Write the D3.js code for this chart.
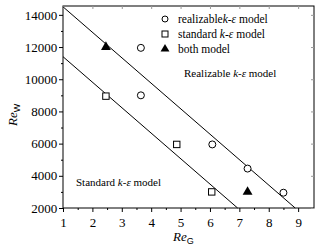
<!DOCTYPE html>
<html>
<head>
<meta charset="utf-8">
<script src="https://cdn.jsdelivr.net/npm/d3@7"></script>
<style>
  body { margin: 0; background: #fff; }
  svg { display: block; font-family: "Liberation Serif", "Times New Roman", serif; }
</style>
</head>
<body>
<div id="chart"></div>
<script>
// data
const realizable = [[3.65, 11950], [3.65, 9000], [6.08, 5950], [7.28, 4450], [8.5, 2950]];
const standard = [[2.46, 8950], [4.87, 5950], [6.06, 3000]];
const both = [[2.46, 12000], [7.28, 3000]];
const upperLine = [[1, 14500], [8.9, 2000]];
const lowerLine = [[1, 11400], [6.94, 2000]];
const xTicks = [1, 2, 3, 4, 5, 6, 7, 8, 9];
const yTicks = [2000, 4000, 6000, 8000, 10000, 12000, 14000];

const width = 320, height = 249;
const margin = { top: 6, right: 6, bottom: 41, left: 63 };
const innerWidth = width - margin.left - margin.right;
const innerHeight = height - margin.top - margin.bottom;

const svg = d3.select('#chart').append('svg')
  .attr('width', width).attr('height', height);
const g = svg.append('g').attr('transform', `translate(${margin.left},${margin.top})`);

const x = d3.scaleLinear().domain([1, 9.54]).range([0, innerWidth]);
const y = d3.scaleLinear().domain([2000, 14550]).range([innerHeight, 0]);

// frame
g.append('rect').attr('width', innerWidth).attr('height', innerHeight)
  .attr('fill', 'none').attr('stroke', '#000').attr('stroke-width', 1);

// minor ticks
const xMinor = d3.range(1.5, 9.5, 1);
const yMinor = d3.range(3000, 14550, 2000);

const xAxis = g.append('g').attr('transform', `translate(0,${innerHeight})`)
  .call(d3.axisBottom(x).tickValues(xTicks).tickFormat(d3.format('d')).tickSize(4).tickSizeOuter(0));
g.append('g').attr('transform', `translate(0,${innerHeight})`)
  .call(d3.axisBottom(x).tickValues(xMinor).tickFormat('').tickSize(2).tickSizeOuter(0));
const yAxis = g.append('g')
  .call(d3.axisLeft(y).tickValues(yTicks).tickFormat(d3.format('d')).tickSize(4).tickSizeOuter(0));
g.append('g')
  .call(d3.axisLeft(y).tickValues(yMinor).tickFormat('').tickSize(2).tickSizeOuter(0));
// faint inner ticks on top/right
g.append('g').call(d3.axisTop(x).tickValues(xTicks).tickFormat('').tickSize(-3).tickSizeOuter(0))
  .selectAll('line').attr('stroke', '#999');
g.append('g').attr('transform', `translate(${innerWidth},0)`)
  .call(d3.axisRight(y).tickValues(yTicks).tickFormat('').tickSize(-3).tickSizeOuter(0))
  .selectAll('line').attr('stroke', '#999');
g.selectAll('.domain').remove();

xAxis.selectAll('text').attr('font-size', 13).attr('font-family', 'Liberation Serif').attr('dy', '0.9em').attr('fill', '#000');
yAxis.selectAll('text').attr('font-size', 13).attr('font-family', 'Liberation Serif').attr('dx', '0.1em').attr('fill', '#000');

// lines
const line = d3.line().x(d => x(d[0])).y(d => y(d[1]));
[upperLine, lowerLine].forEach(l => {
  g.append('path').datum(l).attr('d', line)
    .attr('fill', 'none').attr('stroke', '#000').attr('stroke-width', 1);
});

// markers
g.selectAll('.circ').data(realizable).enter().append('circle')
  .attr('cx', d => x(d[0])).attr('cy', d => y(d[1])).attr('r', 3.5)
  .attr('fill', '#fff').attr('stroke', '#000').attr('stroke-width', 1);
g.selectAll('.sq').data(standard).enter().append('rect')
  .attr('x', d => x(d[0]) - 3.2).attr('y', d => y(d[1]) - 3.2)
  .attr('width', 6.4).attr('height', 6.4)
  .attr('fill', '#fff').attr('stroke', '#000').attr('stroke-width', 1);
const tri = d3.symbol().type(d3.symbolTriangle).size(42);
g.selectAll('.tri').data(both).enter().append('path')
  .attr('d', tri).attr('transform', d => `translate(${x(d[0])},${y(d[1])})`)
  .attr('fill', '#000');

// legend
const legend = [
  { label: 'realizable', shape: 'circle' },
  { label: 'standard', shape: 'square' },
  { label: 'both model', shape: 'triangle' }
];
const lg = svg.append('g').attr('transform', 'translate(165,19)');
legend.forEach((d, i) => {
  const row = lg.append('g').attr('transform', `translate(0,${i * 15})`);
  if (d.shape === 'circle') row.append('circle').attr('r', 3).attr('fill', '#fff').attr('stroke', '#000');
  else if (d.shape === 'square') row.append('rect').attr('x', -3).attr('y', -3).attr('width', 6).attr('height', 6).attr('fill', '#fff').attr('stroke', '#000');
  else row.append('path').attr('d', d3.symbol().type(d3.symbolTriangle).size(34)).attr('fill', '#000');
  const t = row.append('text').attr('x', 13).attr('y', 4).attr('font-size', 11.5).attr('fill', '#000');
  if (d.shape === 'triangle') t.text(d.label);
  else {
    t.append('tspan').text(d.label + (d.shape === 'circle' ? '' : ' '));
    t.append('tspan').attr('font-style', 'italic').text('k-ε');
    t.append('tspan').text(' model');
  }
});

// annotations
function note(xp, yp, name) {
  const t = svg.append('text').attr('x', xp).attr('y', yp).attr('font-size', 11).attr('fill', '#000');
  t.append('tspan').text(name + ' ');
  t.append('tspan').attr('font-style', 'italic').text('k-ε');
  t.append('tspan').text(' model');
}
note(184, 77, 'Realizable');
note(76, 186, 'Standard');

// axis titles
const xt = svg.append('text').attr('x', 173).attr('y', 241).attr('font-size', 13).attr('font-style', 'italic');
xt.append('tspan').text('Re');
xt.append('tspan').attr('font-size', 9).attr('font-style', 'normal').attr('font-family', 'Liberation Sans').attr('dy', 3).text('G');
const yt = svg.append('text').attr('transform', 'translate(17,126) rotate(-90)').attr('font-size', 13).attr('font-style', 'italic');
yt.append('tspan').text('Re');
yt.append('tspan').attr('font-size', 9).attr('font-style', 'normal').attr('font-family', 'Liberation Sans').attr('dy', 3).text('W');
</script>
</body>
</html>
